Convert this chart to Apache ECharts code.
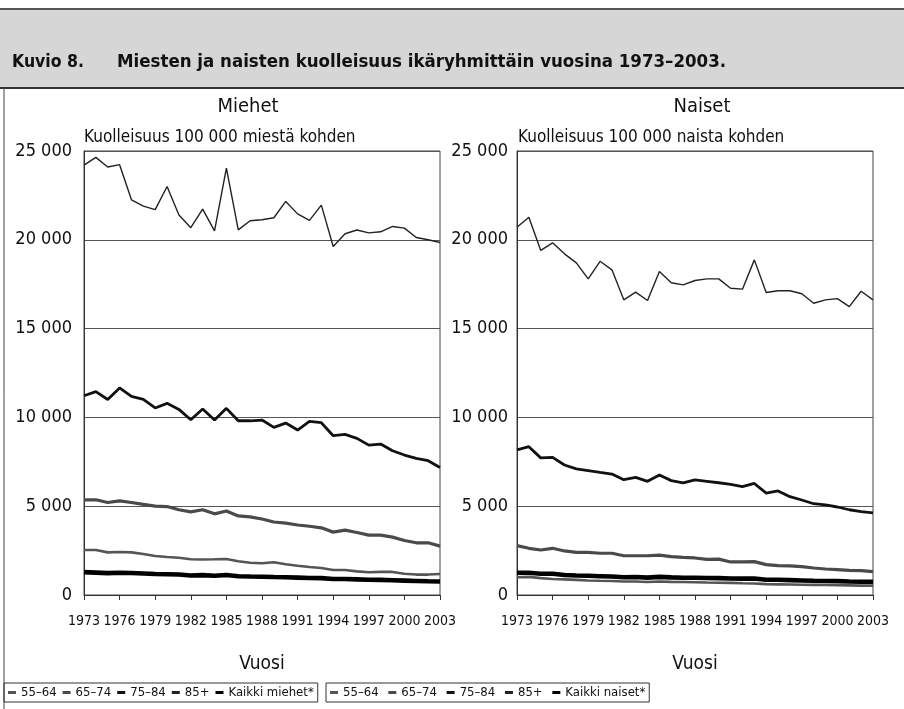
<!DOCTYPE html>
<html>
<head>
<meta charset="utf-8">
<script src="https://cdn.jsdelivr.net/npm/echarts@6/dist/echarts.min.js"></script>
<style>
html,body{margin:0;padding:0;background:#fff;}
#c{width:904px;height:709px;}
</style>
</head>
<body>
<div id="c"></div>
<script>
const years = [];
for (let y = 1973; y <= 2003; y++) years.push(String(y));

const yTicks = [0, 5000, 10000, 15000, 20000, 25000];

// Men (per 100 000 men)
const men85 = [24200,24640,24100,24230,22250,21900,21700,23000,21400,20680,21730,20500,24040,20560,21070,21130,21240,22160,21460,21090,21950,19620,20340,20550,20390,20450,20750,20660,20130,20000,19850];
const men75 = [11220,11450,11010,11660,11180,11010,10530,10790,10450,9870,10470,9850,10510,9810,9810,9850,9440,9680,9290,9775,9700,8970,9040,8820,8440,8500,8120,7880,7690,7560,7180];
const men65 = [5360,5360,5210,5300,5210,5100,5000,4980,4800,4680,4800,4570,4730,4450,4400,4280,4110,4050,3940,3870,3780,3540,3650,3520,3370,3370,3260,3070,2940,2940,2750];
const men55 = [2535,2535,2400,2420,2400,2310,2200,2140,2100,2010,2000,2010,2030,1900,1820,1790,1840,1730,1650,1580,1520,1410,1410,1330,1280,1300,1300,1200,1150,1150,1180];
const menAll = [1290,1260,1230,1250,1240,1210,1180,1170,1150,1100,1120,1080,1130,1060,1040,1030,1010,1000,980,960,950,900,900,880,860,850,830,810,790,770,760];

// Women (per 100 000 women)
const wom85 = [20710,21270,19400,19830,19210,18700,17800,18790,18310,16620,17050,16580,18210,17580,17460,17710,17800,17800,17270,17220,18870,17030,17130,17130,16960,16430,16620,16690,16240,17100,16620];
const wom75 = [8170,8350,7720,7750,7320,7100,7000,6900,6810,6490,6620,6400,6760,6440,6310,6480,6400,6320,6230,6100,6280,5740,5860,5535,5350,5140,5070,4955,4800,4690,4620];
const wom65 = [2780,2630,2535,2630,2480,2400,2400,2350,2350,2210,2210,2210,2250,2160,2120,2085,2010,2020,1860,1860,1880,1710,1650,1640,1600,1520,1465,1430,1390,1370,1315];
const wom55 = [1000,1020,950,900,880,850,820,800,790,760,760,730,760,740,730,720,700,690,680,660,650,610,600,590,580,570,560,550,540,530,520];
const womAll = [1250,1250,1200,1200,1130,1100,1080,1060,1040,1000,1010,980,1020,990,970,970,960,950,930,920,930,860,860,840,820,800,790,780,760,750,740];

const ageNames = ['55–64','65–74','75–84','85+'];
const menAllName = 'Kaikki miehet*';
const womAllName = 'Kaikki naiset*';

const FONT = '"DejaVu Sans Condensed","Liberation Sans Narrow","Liberation Sans",sans-serif';

const styles = {
  '55–64': {color:'#555555', width:2.6},
  '65–74': {color:'#4a4a4a', width:3.2},
  '75–84': {color:'#111111', width:2.8},
  '85+':   {color:'#222222', width:1.4},
  'all':   {color:'#000000', width:4.6}
};

function fmt(v){ return String(v).replace(/\B(?=(\d{3})+(?!\d))/g, ' '); }

function mkSeries(name, data, idx, key){
  const s = styles[key];
  return {
    name: name, type:'line', data: data, xAxisIndex: idx, yAxisIndex: idx,
    symbol:'none', smooth:false, animation:false,
    lineStyle:{color:s.color, width:s.width},
    itemStyle:{color:s.color}
  };
}

const grids = [
  {left:84, right:464, top:151, bottom:114, show:true, borderColor:'#444', borderWidth:1},
  {left:517, right:31, top:151, bottom:114, show:true, borderColor:'#444', borderWidth:1}
];

function xAx(idx){
  return {
    type:'category', gridIndex: idx, data: years, boundaryGap:false,
    axisLine:{lineStyle:{color:'#333', width:1}},
    axisTick:{show:true, interval:2, length:5, lineStyle:{color:'#333'}},
    axisLabel:{interval:2, showMinLabel:true, showMaxLabel:true, hideOverlap:false,
      color:'#111', fontFamily:FONT, fontSize:14, margin:19},
    name:'Vuosi', nameLocation:'middle', nameGap:60,
    nameTextStyle:{color:'#111', fontFamily:FONT, fontSize:19}
  };
}
function yAx(idx, margin){
  return {
    type:'value', gridIndex: idx, min: yTicks[0], max: yTicks[yTicks.length-1], interval: 5000,
    axisLine:{show:true, lineStyle:{color:'#333'}},
    axisTick:{show:false},
    splitLine:{show:true, lineStyle:{color:'#555', width:1}},
    axisLabel:{color:'#111', fontFamily:FONT, fontSize:18, margin:margin, formatter: fmt,
      showMinLabel:true, showMaxLabel:true}
  };
}

const legendBase = {
  orient:'horizontal', top:683, itemWidth:8, itemHeight:3, itemGap:6,
  borderColor:'#333', borderWidth:1, padding:[3,4,3,4], selectedMode:false,
  textStyle:{fontFamily:FONT, fontSize:13, color:'#111'},
  icon:'rect'
};

const option = {
  animation:false,
  backgroundColor:'#ffffff',
  title:[
    {text:'Miehet', left:243, top:92, textAlign:'center', textStyle:{fontFamily:FONT, fontSize:20, fontWeight:'normal', color:'#111'}},
    {text:'Naiset', left:697, top:92, textAlign:'center', textStyle:{fontFamily:FONT, fontSize:20, fontWeight:'normal', color:'#111'}},
    {text:'Kuolleisuus 100 000 miestä kohden', left:84, top:129, padding:0, textStyle:{fontFamily:FONT, fontSize:17, fontWeight:'normal', color:'#111'}},
    {text:'Kuolleisuus 100 000 naista kohden', left:518, top:129, padding:0, textStyle:{fontFamily:FONT, fontSize:17, fontWeight:'normal', color:'#111'}}
  ],
  graphic:[
    {type:'rect', shape:{x:0, y:9, width:904, height:79}, style:{fill:'#d6d6d6', stroke:null}, z:-1},
    {type:'line', shape:{x1:0, y1:9, x2:904, y2:9}, style:{stroke:'#555', lineWidth:2}},
    {type:'line', shape:{x1:0, y1:88, x2:904, y2:88}, style:{stroke:'#333', lineWidth:2}},
    {type:'line', shape:{x1:4, y1:88, x2:4, y2:709}, style:{stroke:'#444', lineWidth:1}},
    {type:'text', left:12, top:53, style:{text:'Kuvio 8.', fontFamily:FONT, fontSize:17.5, fontWeight:'bold', fill:'#111'}},
    {type:'text', left:117, top:53, style:{text:'Miesten ja naisten kuolleisuus ikäryhmittäin vuosina 1973–2003.', fontFamily:FONT, fontSize:18.5, fontWeight:'bold', fill:'#111'}}
  ],
  grid: grids,
  xAxis:[xAx(0), xAx(1)],
  yAxis:[yAx(0, 12), yAx(1, 9)],
  legend:[
    Object.assign({}, legendBase, {left:4, data: ageNames.concat([menAllName])}),
    Object.assign({}, legendBase, {left:326, data: ageNames.map(n=>n+' ').concat([womAllName])})
  ],
  series:[
    mkSeries('55–64', men55, 0, '55–64'),
    mkSeries('65–74', men65, 0, '65–74'),
    mkSeries('75–84', men75, 0, '75–84'),
    mkSeries('85+', men85, 0, '85+'),
    mkSeries(menAllName, menAll, 0, 'all'),
    mkSeries('55–64 ', wom55, 1, '55–64'),
    mkSeries('65–74 ', wom65, 1, '65–74'),
    mkSeries('75–84 ', wom75, 1, '75–84'),
    mkSeries('85+ ', wom85, 1, '85+'),
    mkSeries(womAllName, womAll, 1, 'all')
  ]
};

const chart = echarts.init(document.getElementById('c'), null, {renderer:'canvas'});
chart.setOption(option);
</script>
</body>
</html>
